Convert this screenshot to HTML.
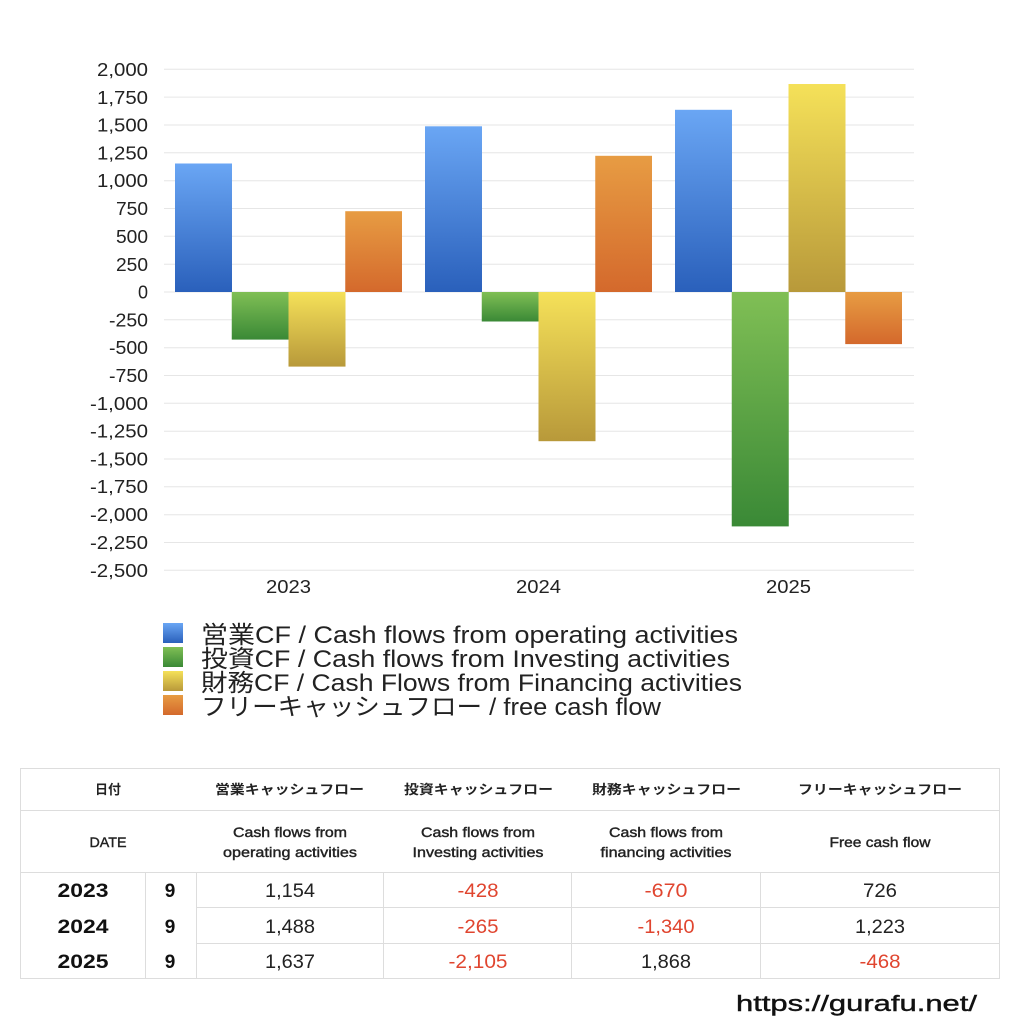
<!DOCTYPE html>
<html>
<head>
<meta charset="utf-8">
<style>
html,body{margin:0;padding:0;background:#fff;}
svg{display:block;}
text{font-family:"Liberation Sans","Noto Sans CJK JP",sans-serif;}
</style>
</head>
<body>
<svg width="1024" height="1024" viewBox="0 0 1024 1024" xmlns="http://www.w3.org/2000/svg">
<defs>
<linearGradient id="gb" x1="0" y1="0" x2="0" y2="1"><stop offset="0" stop-color="#6aa6f4"/><stop offset="1" stop-color="#2a60bb"/></linearGradient>
<linearGradient id="gg" x1="0" y1="0" x2="0" y2="1"><stop offset="0" stop-color="#80bf55"/><stop offset="1" stop-color="#3a8936"/></linearGradient>
<linearGradient id="gy" x1="0" y1="0" x2="0" y2="1"><stop offset="0" stop-color="#f5e159"/><stop offset="1" stop-color="#b8993a"/></linearGradient>
<linearGradient id="go" x1="0" y1="0" x2="0" y2="1"><stop offset="0" stop-color="#e79c43"/><stop offset="1" stop-color="#d4692c"/></linearGradient>
</defs>
<rect width="1024" height="1024" fill="#fff"/>

<!-- gridlines -->
<g stroke="#e6e6e6" stroke-width="1">
<line x1="164" y1="69.3" x2="914" y2="69.3"/>
<line x1="164" y1="97.1" x2="914" y2="97.1"/>
<line x1="164" y1="125" x2="914" y2="125"/>
<line x1="164" y1="152.8" x2="914" y2="152.8"/>
<line x1="164" y1="180.7" x2="914" y2="180.7"/>
<line x1="164" y1="208.5" x2="914" y2="208.5"/>
<line x1="164" y1="236.3" x2="914" y2="236.3"/>
<line x1="164" y1="264.2" x2="914" y2="264.2"/>
<line x1="164" y1="292" x2="914" y2="292"/>
<line x1="164" y1="319.8" x2="914" y2="319.8"/>
<line x1="164" y1="347.7" x2="914" y2="347.7"/>
<line x1="164" y1="375.5" x2="914" y2="375.5"/>
<line x1="164" y1="403.3" x2="914" y2="403.3"/>
<line x1="164" y1="431.2" x2="914" y2="431.2"/>
<line x1="164" y1="459" x2="914" y2="459"/>
<line x1="164" y1="486.8" x2="914" y2="486.8"/>
<line x1="164" y1="514.7" x2="914" y2="514.7"/>
<line x1="164" y1="542.5" x2="914" y2="542.5"/>
<line x1="164" y1="570.3" x2="914" y2="570.3"/>
</g>

<!-- y labels -->
<g font-size="18" fill="#222" text-anchor="end">
<text x="148" y="76" textLength="51" lengthAdjust="spacingAndGlyphs">2,000</text>
<text x="148" y="104" textLength="51" lengthAdjust="spacingAndGlyphs">1,750</text>
<text x="148" y="131.5" textLength="51" lengthAdjust="spacingAndGlyphs">1,500</text>
<text x="148" y="159.5" textLength="51" lengthAdjust="spacingAndGlyphs">1,250</text>
<text x="148" y="187" textLength="51" lengthAdjust="spacingAndGlyphs">1,000</text>
<text x="148" y="215" textLength="32" lengthAdjust="spacingAndGlyphs">750</text>
<text x="148" y="243" textLength="32" lengthAdjust="spacingAndGlyphs">500</text>
<text x="148" y="271" textLength="32" lengthAdjust="spacingAndGlyphs">250</text>
<text x="148" y="298.5">0</text>
<text x="148" y="326.5" textLength="39" lengthAdjust="spacingAndGlyphs">-250</text>
<text x="148" y="354" textLength="39" lengthAdjust="spacingAndGlyphs">-500</text>
<text x="148" y="382" textLength="39" lengthAdjust="spacingAndGlyphs">-750</text>
<text x="148" y="410" textLength="58" lengthAdjust="spacingAndGlyphs">-1,000</text>
<text x="148" y="437.5" textLength="58" lengthAdjust="spacingAndGlyphs">-1,250</text>
<text x="148" y="465.5" textLength="58" lengthAdjust="spacingAndGlyphs">-1,500</text>
<text x="148" y="493" textLength="58" lengthAdjust="spacingAndGlyphs">-1,750</text>
<text x="148" y="521" textLength="58" lengthAdjust="spacingAndGlyphs">-2,000</text>
<text x="148" y="549" textLength="58" lengthAdjust="spacingAndGlyphs">-2,250</text>
<text x="148" y="577" textLength="58" lengthAdjust="spacingAndGlyphs">-2,500</text>
</g>

<!-- bars 2023 -->
<rect x="175" y="163.5" width="57" height="128.5" fill="url(#gb)"/>
<rect x="231.75" y="292" width="57" height="47.6" fill="url(#gg)"/>
<rect x="288.5" y="292" width="57" height="74.6" fill="url(#gy)"/>
<rect x="345.25" y="211.2" width="56.75" height="80.8" fill="url(#go)"/>
<!-- bars 2024 -->
<rect x="425" y="126.3" width="57" height="165.7" fill="url(#gb)"/>
<rect x="481.75" y="292" width="57" height="29.5" fill="url(#gg)"/>
<rect x="538.5" y="292" width="57" height="149.2" fill="url(#gy)"/>
<rect x="595.25" y="155.8" width="56.75" height="136.2" fill="url(#go)"/>
<!-- bars 2025 -->
<rect x="675" y="109.8" width="57" height="182.2" fill="url(#gb)"/>
<rect x="731.75" y="292" width="57" height="234.4" fill="url(#gg)"/>
<rect x="788.5" y="84" width="57" height="208" fill="url(#gy)"/>
<rect x="845.25" y="292" width="56.75" height="52.1" fill="url(#go)"/>

<!-- x labels -->
<g font-size="18" fill="#222" text-anchor="middle">
<text x="288.5" y="593" textLength="45" lengthAdjust="spacingAndGlyphs">2023</text>
<text x="538.5" y="593" textLength="45" lengthAdjust="spacingAndGlyphs">2024</text>
<text x="788.5" y="593" textLength="45" lengthAdjust="spacingAndGlyphs">2025</text>
</g>

<!-- legend -->
<rect x="163" y="623" width="20" height="20" fill="url(#gb)"/>
<rect x="163" y="647" width="20" height="20" fill="url(#gg)"/>
<rect x="163" y="671" width="20" height="20" fill="url(#gy)"/>
<rect x="163" y="695" width="20" height="20" fill="url(#go)"/>
<g font-size="24" fill="#222">
<text x="201" y="643" textLength="537" lengthAdjust="spacingAndGlyphs">営業CF / Cash flows from operating activities</text>
<text x="201" y="667" textLength="529" lengthAdjust="spacingAndGlyphs">投資CF / Cash flows from Investing activities</text>
<text x="201" y="691" textLength="541" lengthAdjust="spacingAndGlyphs">財務CF / Cash Flows from Financing activities</text>
<text x="201" y="715" textLength="460" lengthAdjust="spacingAndGlyphs">フリーキャッシュフロー / free cash flow</text>
</g>

<!-- table -->
<g stroke="#dddddd" stroke-width="1" fill="none">
<rect x="20.5" y="768.5" width="979" height="210"/>
<line x1="20" y1="810.5" x2="1000" y2="810.5"/>
<line x1="20" y1="872.5" x2="1000" y2="872.5"/>
<line x1="196" y1="907.5" x2="1000" y2="907.5"/>
<line x1="196" y1="943.5" x2="1000" y2="943.5"/>
<line x1="145.5" y1="872" x2="145.5" y2="978"/>
<line x1="196.5" y1="872" x2="196.5" y2="978"/>
<line x1="383.5" y1="872" x2="383.5" y2="978"/>
<line x1="571.5" y1="872" x2="571.5" y2="978"/>
<line x1="760.5" y1="872" x2="760.5" y2="978"/>
</g>
<g font-size="13" font-weight="bold" fill="#222" text-anchor="middle">
<text x="108" y="794">日付</text>
<text x="289.5" y="794" textLength="149" lengthAdjust="spacingAndGlyphs">営業キャッシュフロー</text>
<text x="478.5" y="794" textLength="149" lengthAdjust="spacingAndGlyphs">投資キャッシュフロー</text>
<text x="666.5" y="794" textLength="149" lengthAdjust="spacingAndGlyphs">財務キャッシュフロー</text>
<text x="880" y="794" textLength="164" lengthAdjust="spacingAndGlyphs">フリーキャッシュフロー</text>
</g>
<g font-size="14" fill="#222" text-anchor="middle" stroke="#222" stroke-width="0.4">
<text x="108" y="847" textLength="37" lengthAdjust="spacingAndGlyphs">DATE</text>
<text x="290" y="837" textLength="114" lengthAdjust="spacingAndGlyphs">Cash flows from</text>
<text x="290" y="857" textLength="134" lengthAdjust="spacingAndGlyphs">operating activities</text>
<text x="478" y="837" textLength="114" lengthAdjust="spacingAndGlyphs">Cash flows from</text>
<text x="478" y="857" textLength="131" lengthAdjust="spacingAndGlyphs">Investing activities</text>
<text x="666" y="837" textLength="114" lengthAdjust="spacingAndGlyphs">Cash flows from</text>
<text x="666" y="857" textLength="131" lengthAdjust="spacingAndGlyphs">financing activities</text>
<text x="880" y="847" textLength="101" lengthAdjust="spacingAndGlyphs">Free cash flow</text>
</g>
<g font-size="19" font-weight="bold" fill="#111" text-anchor="middle">
<text x="83" y="897" textLength="51" lengthAdjust="spacingAndGlyphs">2023</text>
<text x="83" y="933" textLength="51" lengthAdjust="spacingAndGlyphs">2024</text>
<text x="83" y="968" textLength="51" lengthAdjust="spacingAndGlyphs">2025</text>
<text x="170" y="897">9</text>
<text x="170" y="933">9</text>
<text x="170" y="968">9</text>
</g>
<g font-size="19.5" text-anchor="middle">
<text x="290" y="897" fill="#222" textLength="50" lengthAdjust="spacingAndGlyphs">1,154</text>
<text x="478" y="897" fill="#e0452f" textLength="41" lengthAdjust="spacingAndGlyphs">-428</text>
<text x="666" y="897" fill="#e0452f" textLength="43" lengthAdjust="spacingAndGlyphs">-670</text>
<text x="880" y="897" fill="#222" textLength="34" lengthAdjust="spacingAndGlyphs">726</text>
<text x="290" y="933" fill="#222" textLength="50" lengthAdjust="spacingAndGlyphs">1,488</text>
<text x="478" y="933" fill="#e0452f" textLength="41" lengthAdjust="spacingAndGlyphs">-265</text>
<text x="666" y="933" fill="#e0452f" textLength="57" lengthAdjust="spacingAndGlyphs">-1,340</text>
<text x="880" y="933" fill="#222" textLength="50" lengthAdjust="spacingAndGlyphs">1,223</text>
<text x="290" y="968" fill="#222" textLength="50" lengthAdjust="spacingAndGlyphs">1,637</text>
<text x="478" y="968" fill="#e0452f" textLength="59" lengthAdjust="spacingAndGlyphs">-2,105</text>
<text x="666" y="968" fill="#222" textLength="50" lengthAdjust="spacingAndGlyphs">1,868</text>
<text x="880" y="968" fill="#e0452f" textLength="41" lengthAdjust="spacingAndGlyphs">-468</text>
</g>

<!-- url -->
<text x="736" y="1011" font-size="22" fill="#111" stroke="#111" stroke-width="0.4" textLength="241" lengthAdjust="spacingAndGlyphs">https://gurafu.net/</text>
</svg>
</body>
</html>
